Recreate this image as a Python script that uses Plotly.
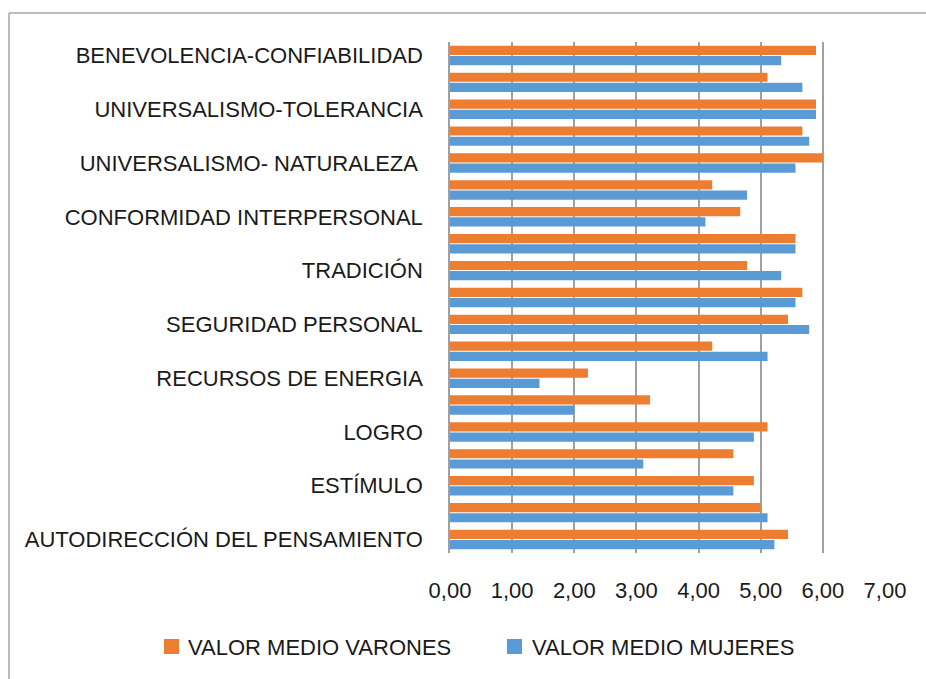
import plotly.graph_objects as go

# Categories, bottom to top (only every other one is labelled on the axis)
categories = [
    "AUTODIRECCIÓN DEL PENSAMIENTO",
    "AUTODIRECCIÓN DE LA ACCIÓN",
    "ESTÍMULO",
    "HEDONISMO",
    "LOGRO",
    "PODER DE DOMINANCIA",
    "RECURSOS DE ENERGIA",
    "IMAGEN PÚBLICA",
    "SEGURIDAD PERSONAL",
    "SEGURIDAD SOCIAL",
    "TRADICIÓN",
    "CONFORMIDAD CON LAS NORMAS",
    "CONFORMIDAD INTERPERSONAL",
    "HUMILDAD",
    "UNIVERSALISMO- NATURALEZA ",
    "UNIVERSALISMO-COMPROMISO",
    "UNIVERSALISMO-TOLERANCIA",
    "BENEVOLENCIA-CUIDADO",
    "BENEVOLENCIA-CONFIABILIDAD",
]
shown_labels = categories[::2]

varones = [5.44, 5.00, 4.89, 4.56, 5.11, 3.22, 2.22, 4.22, 5.44, 5.67,
           4.78, 5.56, 4.67, 4.22, 6.00, 5.67, 5.89, 5.11, 5.89]
mujeres = [5.22, 5.11, 4.56, 3.11, 4.89, 2.00, 1.44, 5.11, 5.78, 5.56,
           5.33, 5.56, 4.11, 4.78, 5.56, 5.78, 5.89, 5.67, 5.33]

x_ticks = [0, 1, 2, 3, 4, 5, 6, 7]
legend_names = ["VALOR MEDIO VARONES", "VALOR MEDIO MUJERES"]

ORANGE = "#ED7D31"
BLUE = "#5B9BD5"
GRID = "#a0a0a0"
FONT = "Liberation Sans"
FS = 22

W, H = 926, 679
L, R, T, B = 450, 41, 42, 126
PW, PH = W - L - R, H - T - B


def px_x(p):
    return (p - L) / PW


def px_y(p):
    return (H - B - p) / PH


fig = go.Figure()
fig.add_trace(go.Bar(y=categories, x=mujeres, orientation="h", name=legend_names[1],
                     marker=dict(color=BLUE, line=dict(width=0))))
fig.add_trace(go.Bar(y=categories, x=varones, orientation="h", name=legend_names[0],
                     marker=dict(color=ORANGE, line=dict(width=0))))

# manual legend (Varones first, as in the reference)
legend_items = [(legend_names[0], ORANGE, 164, 186), (legend_names[1], BLUE, 507, 530)]
shapes = []
annotations = []
for name, col, sq_x, tx_x in legend_items:
    shapes.append(dict(type="rect", xref="paper", yref="paper",
                       x0=px_x(sq_x), x1=px_x(sq_x + 15),
                       y0=px_y(654), y1=px_y(639),
                       fillcolor=col, line=dict(width=0)))
    annotations.append(dict(xref="paper", yref="paper", x=px_x(tx_x), y=px_y(647),
                            xanchor="left", yanchor="middle", showarrow=False,
                            text=name, font=dict(family=FONT, size=FS, color="#1a1a1a")))

# outer chart border (top and left edges visible)
shapes.append(dict(type="line", xref="paper", yref="paper",
                   x0=px_x(9), x1=px_x(930), y0=px_y(13), y1=px_y(13),
                   line=dict(color="#a6a6a6", width=1.5)))
shapes.append(dict(type="line", xref="paper", yref="paper",
                   x0=px_x(9), x1=px_x(9), y0=px_y(13), y1=px_y(685),
                   line=dict(color="#a6a6a6", width=1.5)))

fig.update_layout(
    width=W, height=H,
    margin=dict(l=L, r=R, t=T, b=B, autoexpand=False),
    paper_bgcolor="white", plot_bgcolor="white",
    barmode="group", bargap=0.24, bargroupgap=0.1,
    showlegend=False,
    separators=",.",
    font=dict(family=FONT, size=FS, color="#1a1a1a"),
    shapes=shapes, annotations=annotations,
    xaxis=dict(range=[0, 7], tickmode="array", tickvals=x_ticks, tickformat=".2f",
               showgrid=True, gridcolor=GRID, gridwidth=1.5,
               zeroline=False, showline=False, ticks="",
               ticklabelstandoff=22,
               tickfont=dict(family=FONT, size=FS, color="#1a1a1a")),
    yaxis=dict(type="category", categoryorder="array", categoryarray=categories,
               range=[-0.5, len(categories) - 0.5],
               tickmode="array", tickvals=shown_labels, ticktext=shown_labels,
               showgrid=False, zeroline=False, showline=True, linecolor=GRID, linewidth=1.5,
               ticks="", ticklabelstandoff=21,
               tickfont=dict(family=FONT, size=FS, color="#1a1a1a")),
)

fig.write_html("out.html",
               config={"displayModeBar": False},
               post_script="document.body.style.margin='0';document.body.style.overflow='hidden';")
